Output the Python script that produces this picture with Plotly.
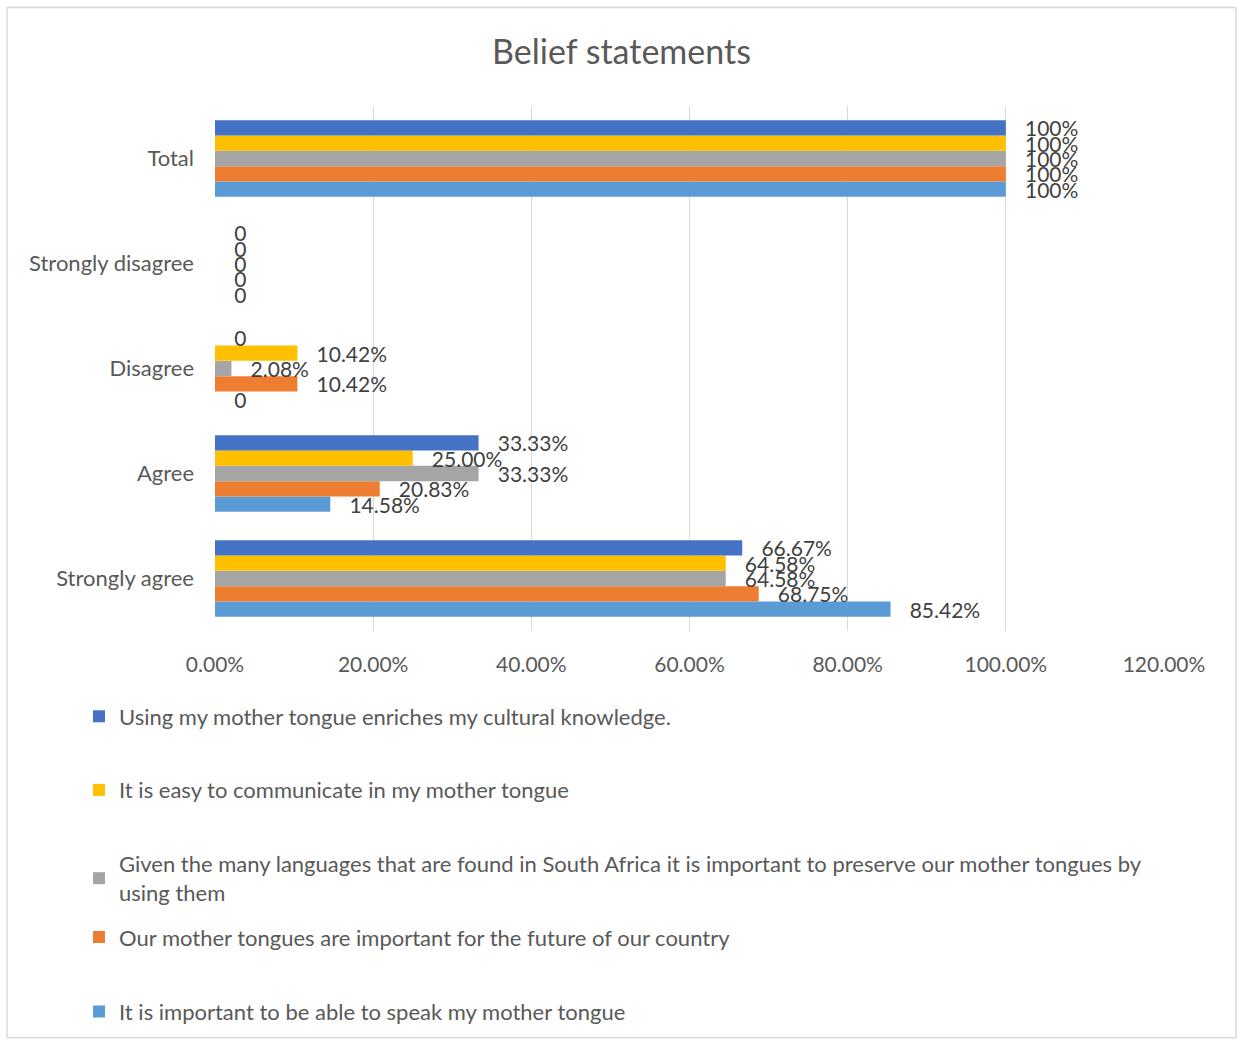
import plotly.graph_objects as go

# Response categories (bottom to top on the chart)
categories = ["Strongly agree", "Agree", "Disagree", "Strongly disagree", "Total"]

# Belief statements and their share of responses per category
statements = [
    "Using my mother tongue enriches my cultural knowledge.",
    "It is easy to communicate in my mother tongue",
    "Given the many languages that are found in South Africa it is important to preserve our mother tongues by<br>using them",
    "Our mother tongues are important for the future of our country",
    "It is important to be able to speak my mother tongue",
]
enriches_culture = [0.6667, 0.3333, 0.0, 0.0, 1.0]
easy_to_communicate = [0.6458, 0.2500, 0.1042, 0.0, 1.0]
preserve_languages = [0.6458, 0.3333, 0.0208, 0.0, 1.0]
future_of_country = [0.6875, 0.2083, 0.1042, 0.0, 1.0]
able_to_speak = [0.8542, 0.1458, 0.0, 0.0, 1.0]

series_values = [enriches_culture, easy_to_communicate, preserve_languages,
                 future_of_country, able_to_speak]
colors = ["#4472C4", "#FFC000", "#A5A5A5", "#ED7D31", "#5B9BD5"]

x_ticks = [0, 0.2, 0.4, 0.6, 0.8, 1.0, 1.2]

FONT = "Lato"
TEXT_COLOR = "#595959"
PAD = "\u00a0" * 3


def label(v):
    if v == 0:
        return PAD + "0"
    if v == 1:
        return PAD + "100%"
    return PAD + f"{v * 100:.2f}%"


# Plot area (pixels) and the vertical centre of each legend entry
plot_top, plot_h = 106, 528
plot_bottom = plot_top + plot_h
legend_centres = [720, 794, 883, 942, 1017]

fig = go.Figure()
# Grouped horizontal bars stack the first trace lowest, so add in reverse
for i in reversed(range(len(statements))):
    lname = "legend" if i == 0 else f"legend{i + 1}"
    fig.add_trace(go.Bar(
        y=categories,
        x=series_values[i],
        orientation="h",
        name=statements[i],
        marker=dict(color=colors[i], line=dict(width=0)),
        text=[label(v) for v in series_values[i]],
        textposition="outside",
        constraintext="none",
        cliponaxis=False,
        textfont=dict(family=FONT, size=21, color="#404040"),
        legend=lname,
        hoverinfo="x+y+name",
    ))

layout_legends = {}
for i, centre in enumerate(legend_centres):
    lname = "legend" if i == 0 else f"legend{i + 1}"
    layout_legends[lname] = dict(
        x=(79 - 215) / 949,
        y=(plot_bottom - centre) / plot_h,
        xanchor="left",
        yanchor="middle",
        bgcolor="rgba(0,0,0,0)",
        font=dict(family=FONT, size=22, color=TEXT_COLOR),
        itemclick=False,
        itemdoubleclick=False,
    )

fig.update_layout(
    width=1243,
    height=1045,
    margin=dict(l=215, r=79, t=plot_top, b=1045 - plot_bottom),
    paper_bgcolor="white",
    plot_bgcolor="white",
    barmode="group",
    bargap=0.27,
    bargroupgap=0,
    title=dict(
        text="Belief statements",
        x=0.5,
        xref="container",
        xanchor="center",
        y=1 - 52 / 1045,
        yanchor="middle",
        font=dict(family=FONT, size=34, color=TEXT_COLOR),
    ),
    xaxis=dict(
        range=[0, 1.2],
        tickvals=x_ticks,
        tickformat=".2%",
        showgrid=True,
        gridcolor="#D9D9D9",
        gridwidth=1.3,
        zeroline=False,
        showline=False,
        ticks="",
        ticklabelstandoff=19,
        tickfont=dict(family=FONT, size=21, color=TEXT_COLOR),
        fixedrange=True,
    ),
    yaxis=dict(
        categoryorder="array",
        categoryarray=categories,
        showgrid=False,
        zeroline=False,
        showline=False,
        ticks="",
        ticklabelstandoff=20,
        tickfont=dict(family=FONT, size=22, color=TEXT_COLOR),
        fixedrange=True,
    ),
    showlegend=True,
    shapes=[dict(
        type="rect", xref="paper", yref="paper",
        x0=(7 - 215) / 949, x1=(1236 - 215) / 949,
        y0=(plot_bottom - 1043) / plot_h, y1=(plot_bottom - 7) / plot_h,
        line=dict(color="#D9D9D9", width=1.5),
        fillcolor="rgba(0,0,0,0)",
        layer="below",
    )],
    **layout_legends,
)

fig.write_html("out.html")
